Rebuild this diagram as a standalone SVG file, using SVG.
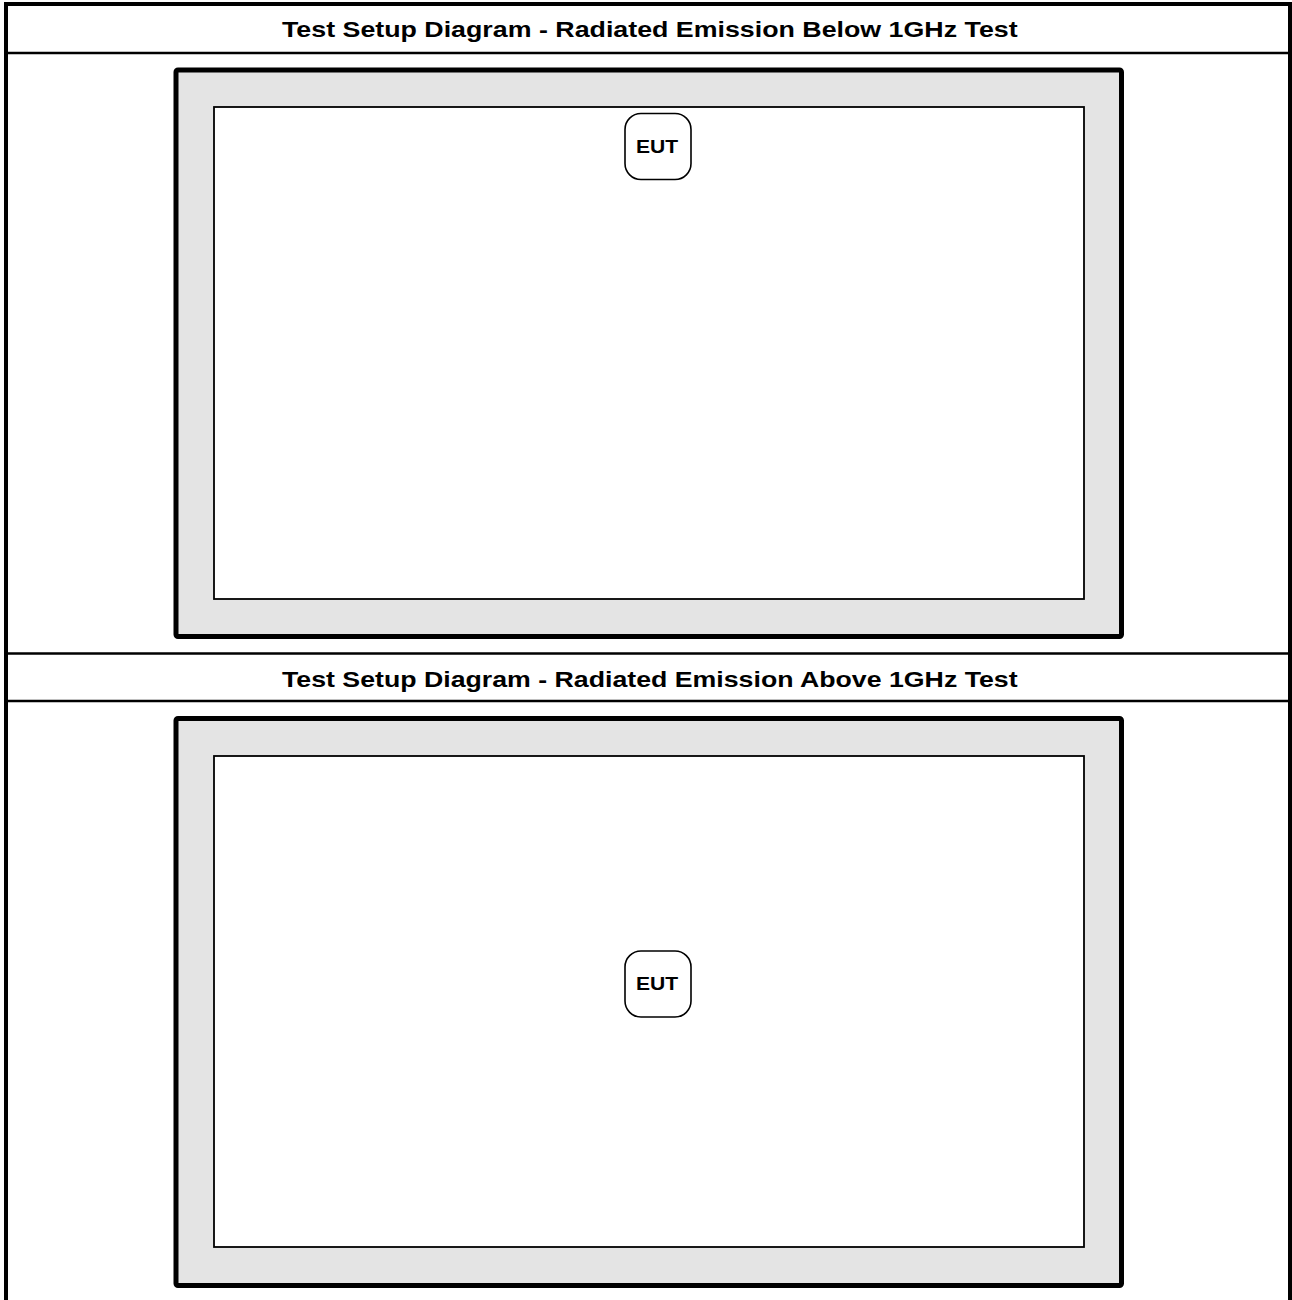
<svg xmlns="http://www.w3.org/2000/svg" width="1292" height="1300" viewBox="0 0 1292 1300">
<style>
.frame{fill:none;stroke:#000;stroke-width:4}
.div{stroke:#000;stroke-width:2.4}
.hdr{font-family:"Liberation Sans",Arial,sans-serif;font-weight:bold;font-size:22px;fill:#000}
.chamber{fill:#e4e4e4;stroke:#000;stroke-width:5}
.inner{fill:#fff;stroke:#000;stroke-width:1.8}
.eut{fill:#fff;stroke:#000;stroke-width:1.6}
.eutt{font-family:"Liberation Sans",Arial,sans-serif;font-weight:bold;font-size:18px;fill:#000}
</style>
<rect x="0" y="0" width="1292" height="1300" fill="#fff"/>
<g id="frame">
<rect class="frame" x="6" y="4" width="1284" height="1310"/>
<line class="div" x1="6" y1="53" x2="1290" y2="53"/>
<line class="div" x1="6" y1="653.5" x2="1290" y2="653.5"/>
<line class="div" x1="6" y1="701" x2="1290" y2="701"/>
<text class="hdr" transform="translate(282,37) scale(1.2,1)" x="0" y="0" textLength="613" lengthAdjust="spacingAndGlyphs">Test Setup Diagram - Radiated Emission Below 1GHz Test</text>
<text class="hdr" transform="translate(282,687) scale(1.2,1)" x="0" y="0" textLength="613" lengthAdjust="spacingAndGlyphs">Test Setup Diagram - Radiated Emission Above 1GHz Test</text>
</g>
<g id="chamber1">
<rect class="chamber" x="176" y="70" width="945.5" height="566.5" rx="2"/>
<rect class="inner" x="214" y="107" width="870" height="492"/>
</g>
<g id="chamber2">
<rect class="chamber" x="176" y="718.5" width="945.5" height="567" rx="2"/>
<rect class="inner" x="214" y="756" width="870" height="491"/>
</g>
<g id="eut1">
<rect class="eut" x="625" y="113.5" width="66" height="66" rx="16"/>
<text class="eutt" transform="translate(636,152.5) scale(1.17,1)" x="0" y="0">EUT</text>
</g>
<g id="eut2">
<rect class="eut" x="625" y="951" width="66" height="66" rx="16"/>
<text class="eutt" transform="translate(636,989.5) scale(1.17,1)" x="0" y="0">EUT</text>
</g>
<g id="connectors"></g>
</svg>
